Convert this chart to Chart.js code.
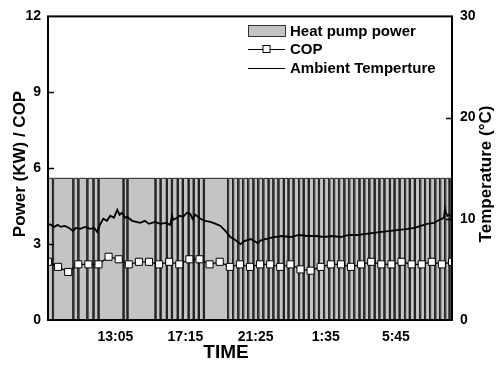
<!DOCTYPE html>
<html>
<head>
<meta charset="utf-8">
<script src="https://cdn.jsdelivr.net/npm/chart.js@4.4.1/dist/chart.umd.min.js"></script>
<style>
  html, body { margin: 0; padding: 0; background: #fff; }
  #wrap { width: 499px; height: 366px; }
</style>
</head>
<body>
<div id="wrap"><canvas id="chart" width="499" height="366"></canvas></div>
<script>
// time axis: minutes after 9:05 (one full day)
const tickMinutes = [240, 490, 740, 990, 1240];
const tickLabels = ["13:05", "17:15", "21:25", "1:35", "5:45"];

// heat pump power: on level and the moments it cycles off (minutes)
const powerOnLevel = 5.6;
const powerOffMinutes = 4;
const powerOffStarts = [16, 89, 107, 139, 161, 179, 268, 282, 382, 400, 422, 440, 461, 479,
  500, 518, 536, 554, 640, 658, 677, 694, 712, 731, 748, 766, 785, 802, 820, 839, 856, 874,
  893, 910, 928, 947, 964, 982, 1001, 1018, 1036, 1055, 1072, 1090, 1109, 1126, 1144, 1163,
  1180, 1198, 1217, 1234, 1252, 1271, 1288, 1306, 1325, 1342, 1360, 1379, 1396, 1414, 1430];

// COP [minute, value]
const copData = [[0, 2.3], [36, 2.1], [72, 1.9], [108, 2.2], [144, 2.2], [180, 2.2], [216, 2.5],
  [252, 2.4], [288, 2.2], [324, 2.3], [360, 2.3], [396, 2.2], [432, 2.3], [468, 2.2], [504, 2.4],
  [540, 2.4], [576, 2.2], [612, 2.3], [648, 2.1], [684, 2.2], [720, 2.1], [756, 2.2], [792, 2.2],
  [828, 2.1], [864, 2.2], [900, 2.0], [936, 1.95], [972, 2.1], [1008, 2.2], [1044, 2.2], [1080, 2.1],
  [1116, 2.2], [1152, 2.3], [1188, 2.2], [1224, 2.2], [1260, 2.3], [1296, 2.2], [1332, 2.2],
  [1368, 2.3], [1404, 2.2], [1440, 2.3]];

// ambient temperature [minute, °C]
const ambientTemp = [[0, 9.5], [10, 9.4], [22, 9.2], [35, 9.4], [45, 9.2], [60, 9.3], [75, 9.1],
  [89, 8.8], [100, 9.1], [115, 9.0], [132, 9.2], [150, 9.0], [165, 9.1], [175, 8.7], [185, 9.4],
  [197, 10.0], [210, 9.8], [222, 10.3], [235, 10.1], [247, 10.9], [255, 10.4], [264, 10.6],
  [275, 10.1], [282, 10.2], [300, 9.8], [315, 9.7], [329, 9.6], [345, 9.8], [360, 9.5], [382, 9.7],
  [400, 9.5], [420, 9.6], [436, 9.4], [442, 10.3], [447, 9.9], [460, 10.1], [470, 10.3], [482, 10.2],
  [495, 10.6], [507, 10.5], [515, 10.0], [525, 10.4], [535, 10.2], [543, 10.0], [560, 9.8],
  [579, 9.7], [598, 9.5], [615, 9.3], [632, 8.8], [650, 8.2], [668, 7.9], [686, 7.5], [700, 7.8],
  [722, 8.0], [735, 7.8], [747, 7.6], [760, 7.9], [775, 8.0], [790, 8.1], [804, 8.2], [835, 8.3],
  [865, 8.2], [895, 8.4], [925, 8.3], [955, 8.3], [983, 8.2], [1013, 8.3], [1043, 8.2], [1073, 8.4],
  [1104, 8.4], [1134, 8.5], [1161, 8.6], [1190, 8.7], [1222, 8.8], [1252, 8.9], [1283, 9.0],
  [1306, 9.1], [1329, 9.3], [1352, 9.5], [1376, 9.6], [1395, 9.9], [1411, 10.1], [1415, 11.0],
  [1418, 10.6], [1424, 10.3], [1429, 10.4], [1440, 10.2]];

const FONT = "'Liberation Sans', Arial, sans-serif";

// step line for the power: on, drop to zero, back on
const powerPoints = [{ x: 0, y: powerOnLevel }];
powerOffStarts.forEach(function (t) {
  powerPoints.push({ x: t, y: powerOnLevel }, { x: t, y: 0 },
    { x: t + powerOffMinutes, y: 0 }, { x: t + powerOffMinutes, y: powerOnLevel });
});
powerPoints.push({ x: 1440, y: powerOnLevel });

const toXY = (arr) => arr.map((p) => ({ x: p[0], y: p[1] }));

// frame, inward ticks, titles and legend
const decorations = {
  id: "decorations",
  afterDraw(chart) {
    const ctx = chart.ctx;
    const a = chart.chartArea;
    const yL = chart.scales.y;
    const yR = chart.scales.yT;
    ctx.save();
    ctx.strokeStyle = "#000";
    ctx.lineWidth = 2;
    ctx.strokeRect(a.left, a.top, a.right - a.left, a.bottom - a.top);

    ctx.lineWidth = 1.5;
    ctx.beginPath();
    [3, 6, 9].forEach(function (v) {
      const y = Math.round(yL.getPixelForValue(v)) + 0.5;
      ctx.moveTo(a.left, y); ctx.lineTo(a.left + 6, y);
    });
    [10, 20].forEach(function (v) {
      const y = Math.round(yR.getPixelForValue(v)) + 0.5;
      ctx.moveTo(a.right, y); ctx.lineTo(a.right - 6, y);
    });
    ctx.stroke();

    ctx.fillStyle = "#000";
    ctx.textAlign = "center";
    ctx.textBaseline = "middle";
    ctx.font = "bold 17px " + FONT;
    ctx.save();
    ctx.translate(20, 164);
    ctx.rotate(-Math.PI / 2);
    ctx.fillText("Power (KW) / COP", 0, 0);
    ctx.restore();
    ctx.save();
    ctx.translate(486, 174);
    ctx.rotate(-Math.PI / 2);
    ctx.fillText("Temperature (\u00B0C)", 0, 0);
    ctx.restore();
    ctx.font = "bold 19px " + FONT;
    ctx.fillText("TIME", 226, 353);

    // legend
    const ds = chart.data.datasets;
    const lx = 248, lw = 37;
    const rows = [31, 49, 68];
    ctx.font = "bold 15px " + FONT;
    ctx.textAlign = "left";
    ctx.fillStyle = "#c4c4c4";
    ctx.fillRect(lx, rows[0] - 6, lw, 12);
    ctx.lineWidth = 1;
    ctx.strokeStyle = "#333";
    ctx.strokeRect(lx + 0.5, rows[0] - 5.5, lw, 11);
    ctx.beginPath();
    ctx.moveTo(lx, rows[1] + 0.5); ctx.lineTo(lx + lw, rows[1] + 0.5);
    ctx.moveTo(lx, rows[2] + 0.5); ctx.lineTo(lx + lw, rows[2] + 0.5);
    ctx.strokeStyle = "#000";
    ctx.stroke();
    ctx.fillStyle = "#fff";
    ctx.fillRect(lx + lw / 2 - 3.5, rows[1] - 3.5, 7, 7);
    ctx.strokeRect(lx + lw / 2 - 3.5, rows[1] - 3.5, 7, 7);
    ctx.fillStyle = "#000";
    ds.forEach(function (d, i) {
      ctx.fillText(d.label, lx + lw + 5, rows[i] + 1);
    });
    ctx.restore();
  }
};

new Chart(document.getElementById("chart"), {
  type: "line",
  data: {
    datasets: [
      {
        label: "Heat pump power",
        data: powerPoints,
        yAxisID: "y",
        borderColor: "#222",
        borderWidth: 1,
        backgroundColor: "#c4c4c4",
        fill: "origin",
        pointRadius: 0,
        tension: 0,
        order: 3
      },
      {
        label: "COP",
        data: toXY(copData),
        yAxisID: "y",
        borderColor: "#000",
        borderWidth: 1.2,
        pointStyle: "rect",
        pointRadius: 5,
        pointBackgroundColor: "#fff",
        pointBorderColor: "#000",
        pointBorderWidth: 1,
        fill: false,
        tension: 0,
        order: 1
      },
      {
        label: "Ambient Temperture",
        data: toXY(ambientTemp),
        yAxisID: "yT",
        borderColor: "#000",
        borderWidth: 1.8,
        pointRadius: 0,
        fill: false,
        tension: 0,
        order: 2
      }
    ]
  },
  options: {
    responsive: false,
    animation: false,
    layout: { padding: { top: 14, right: 0, bottom: 0, left: 0 } },
    plugins: { legend: { display: false }, tooltip: { enabled: false } },
    scales: {
      x: {
        type: "linear",
        min: 0,
        max: 1440,
        grid: { display: false, drawTicks: false },
        border: { display: false },
        afterBuildTicks: (s) => { s.ticks = tickMinutes.map((v) => ({ value: v })); },
        afterFit: (s) => { s.height = 46; },
        ticks: {
          padding: 9,
          color: "#000",
          font: { family: FONT, size: 14, weight: "bold" },
          callback: (v) => tickLabels[tickMinutes.indexOf(v)]
        }
      },
      y: {
        position: "left",
        min: 0,
        max: 12,
        grid: { display: false, drawTicks: false },
        border: { display: false },
        afterFit: (s) => { s.width = 48; },
        ticks: {
          stepSize: 3,
          padding: 7,
          color: "#000",
          font: { family: FONT, size: 14, weight: "bold" }
        }
      },
      yT: {
        position: "right",
        min: 0,
        max: 30,
        grid: { display: false, drawTicks: false },
        border: { display: false },
        afterFit: (s) => { s.width = 47; },
        ticks: {
          stepSize: 10,
          padding: 8,
          color: "#000",
          font: { family: FONT, size: 14, weight: "bold" }
        }
      }
    }
  },
  plugins: [decorations]
});
</script>
</body>
</html>
